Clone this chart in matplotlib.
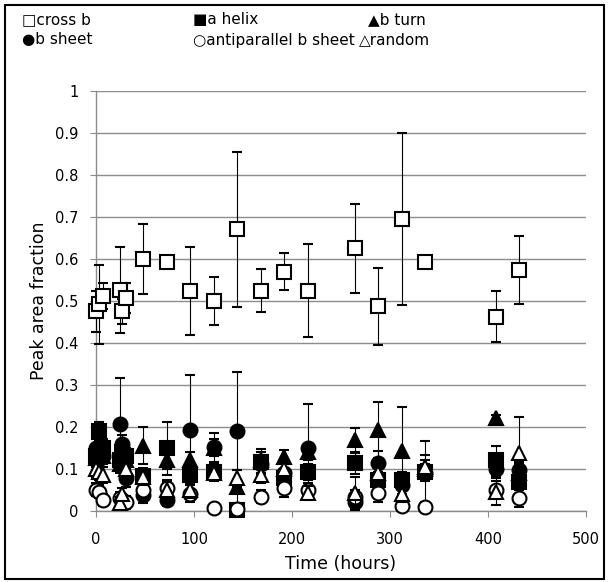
import matplotlib
matplotlib.use("Agg")
import matplotlib.pyplot as plt
from matplotlib.patches import Rectangle

plt.rcParams['font.family'] = ['DejaVu Sans']

times = [0, 3, 7, 24, 27, 31, 48, 72, 96, 120, 144, 168, 192, 216, 264, 288, 312, 336, 408, 432]

cross_b = [0.475, 0.492, 0.512, 0.526, 0.475, 0.508, 0.600, 0.594, 0.524, 0.500, 0.671, 0.525, 0.570, 0.525, 0.626, 0.487, 0.695, 0.592, 0.463, 0.574]
cross_b_err = [0.050, 0.095, 0.030, 0.103, 0.030, 0.036, 0.084, 0.0, 0.106, 0.058, 0.185, 0.052, 0.044, 0.112, 0.106, 0.091, 0.205, 0.0, 0.061, 0.081]

a_helix = [0.130, 0.190, 0.150, 0.120, 0.140, 0.130, 0.082, 0.149, 0.085, 0.093, 0.002, 0.117, 0.077, 0.092, 0.113, 0.073, 0.073, 0.093, 0.120, 0.069]
a_helix_err = [0.020, 0.022, 0.020, 0.020, 0.020, 0.020, 0.020, 0.063, 0.020, 0.015, 0.008, 0.030, 0.020, 0.020, 0.025, 0.020, 0.020, 0.073, 0.034, 0.020]

b_turn = [0.125, 0.140, 0.130, 0.110, 0.130, 0.120, 0.155, 0.120, 0.120, 0.150, 0.057, 0.120, 0.129, 0.140, 0.168, 0.192, 0.141, 0.100, 0.220, 0.090]
b_turn_err = [0.020, 0.020, 0.020, 0.020, 0.020, 0.020, 0.045, 0.020, 0.020, 0.020, 0.040, 0.020, 0.016, 0.020, 0.028, 0.066, 0.107, 0.020, 0.007, 0.020]

b_sheet = [0.150, 0.140, 0.130, 0.207, 0.160, 0.077, 0.037, 0.025, 0.192, 0.151, 0.191, 0.110, 0.090, 0.149, 0.020, 0.113, 0.060, 0.090, 0.100, 0.097]
b_sheet_err = [0.020, 0.020, 0.020, 0.110, 0.020, 0.020, 0.020, 0.015, 0.132, 0.035, 0.140, 0.020, 0.020, 0.105, 0.015, 0.030, 0.020, 0.020, 0.020, 0.020]

anti_b_sheet = [0.050, 0.045, 0.025, 0.030, 0.025, 0.020, 0.050, 0.053, 0.040, 0.006, 0.003, 0.033, 0.053, 0.050, 0.033, 0.041, 0.010, 0.009, 0.050, 0.029]
anti_b_sheet_err = [0.015, 0.015, 0.015, 0.015, 0.015, 0.015, 0.020, 0.020, 0.020, 0.005, 0.003, 0.015, 0.020, 0.015, 0.015, 0.020, 0.010, 0.009, 0.020, 0.020]

random_coil = [0.100, 0.093, 0.085, 0.018, 0.040, 0.100, 0.080, 0.048, 0.049, 0.090, 0.077, 0.085, 0.100, 0.043, 0.041, 0.089, 0.040, 0.105, 0.045, 0.137]
random_err = [0.020, 0.020, 0.020, 0.015, 0.015, 0.020, 0.020, 0.020, 0.020, 0.020, 0.020, 0.020, 0.020, 0.015, 0.040, 0.020, 0.020, 0.028, 0.032, 0.087]

legend_labels = ["\u25a1cross b", "\u25a0a helix", "\u25b2b turn",
                 "\u25cfb sheet", "\u25cbantiparallel b sheet", "\u25b3random"]

x_ticks = [0, 100, 200, 300, 400, 500]
y_ticks = [0, 0.1, 0.2, 0.3, 0.4, 0.5, 0.6, 0.7, 0.8, 0.9, 1]
y_tick_labels = ["0", "0.1", "0.2", "0.3", "0.4", "0.5", "0.6", "0.7", "0.8", "0.9", "1"]

W, H = 608, 582
fig = plt.figure(figsize=(W / 100, H / 100), dpi=100)
ax = fig.add_axes([96 / W, 1 - 510.6 / H, 490 / W, 419.2 / H])

series = [
    (cross_b, cross_b_err, 's', 'white'),
    (a_helix, a_helix_err, 's', 'black'),
    (b_turn, b_turn_err, '^', 'black'),
    (b_sheet, b_sheet_err, 'o', 'black'),
    (anti_b_sheet, anti_b_sheet_err, 'o', 'white'),
    (random_coil, random_err, '^', 'white'),
]
for i, (vals, errs, mk, fc) in enumerate(series):
    ax.errorbar(times, vals, yerr=errs, fmt=mk, ms=10, mfc=fc, mec='black', mew=1.5,
                ecolor='black', elinewidth=0.8, capsize=3.5, capthick=0.8,
                zorder=3 + i, clip_on=False)

ax.set_xlim(0, 500)
ax.set_ylim(0, 1)
ax.set_xticks(x_ticks)
ax.set_xticklabels([str(t) for t in x_ticks])
ax.set_yticks(y_ticks)
ax.set_yticklabels(y_tick_labels)
ax.grid(axis='y', color='#8c8c8c', lw=1.0, zorder=0)
ax.set_axisbelow(True)
for s in ['top', 'right']:
    ax.spines[s].set_visible(False)
for s in ['left', 'bottom']:
    ax.spines[s].set_color('#8c8c8c')
    ax.spines[s].set_linewidth(1.0)
ax.tick_params(axis='both', direction='out', length=4.5, width=0.8, color='#8c8c8c',
               labelsize=10.5, labelcolor='black')
ax.tick_params(axis='x', pad=11)
ax.tick_params(axis='y', pad=8)
ax.set_xlabel("Time (hours)", fontsize=12.5, labelpad=6)
ax.set_ylabel("Peak area fraction", fontsize=12.5, labelpad=5)

# legend as text rows (positions in pixels)
legend_pos = [(22, 20), (193, 20), (368, 20),
              (22, 40), (193, 40), (359, 40)]
for lab, (px, py) in zip(legend_labels, legend_pos):
    fig.text(px / W, 1 - py / H, lab, fontsize=11, ha='left', va='center')

# outer chart border
fig.patches.append(Rectangle((5 / W, 3 / H), (604 - 5) / W, (578 - 4) / H,
                             transform=fig.transFigure, fill=False, ec='black', lw=1.5))

fig.savefig("out.png", dpi=100)
